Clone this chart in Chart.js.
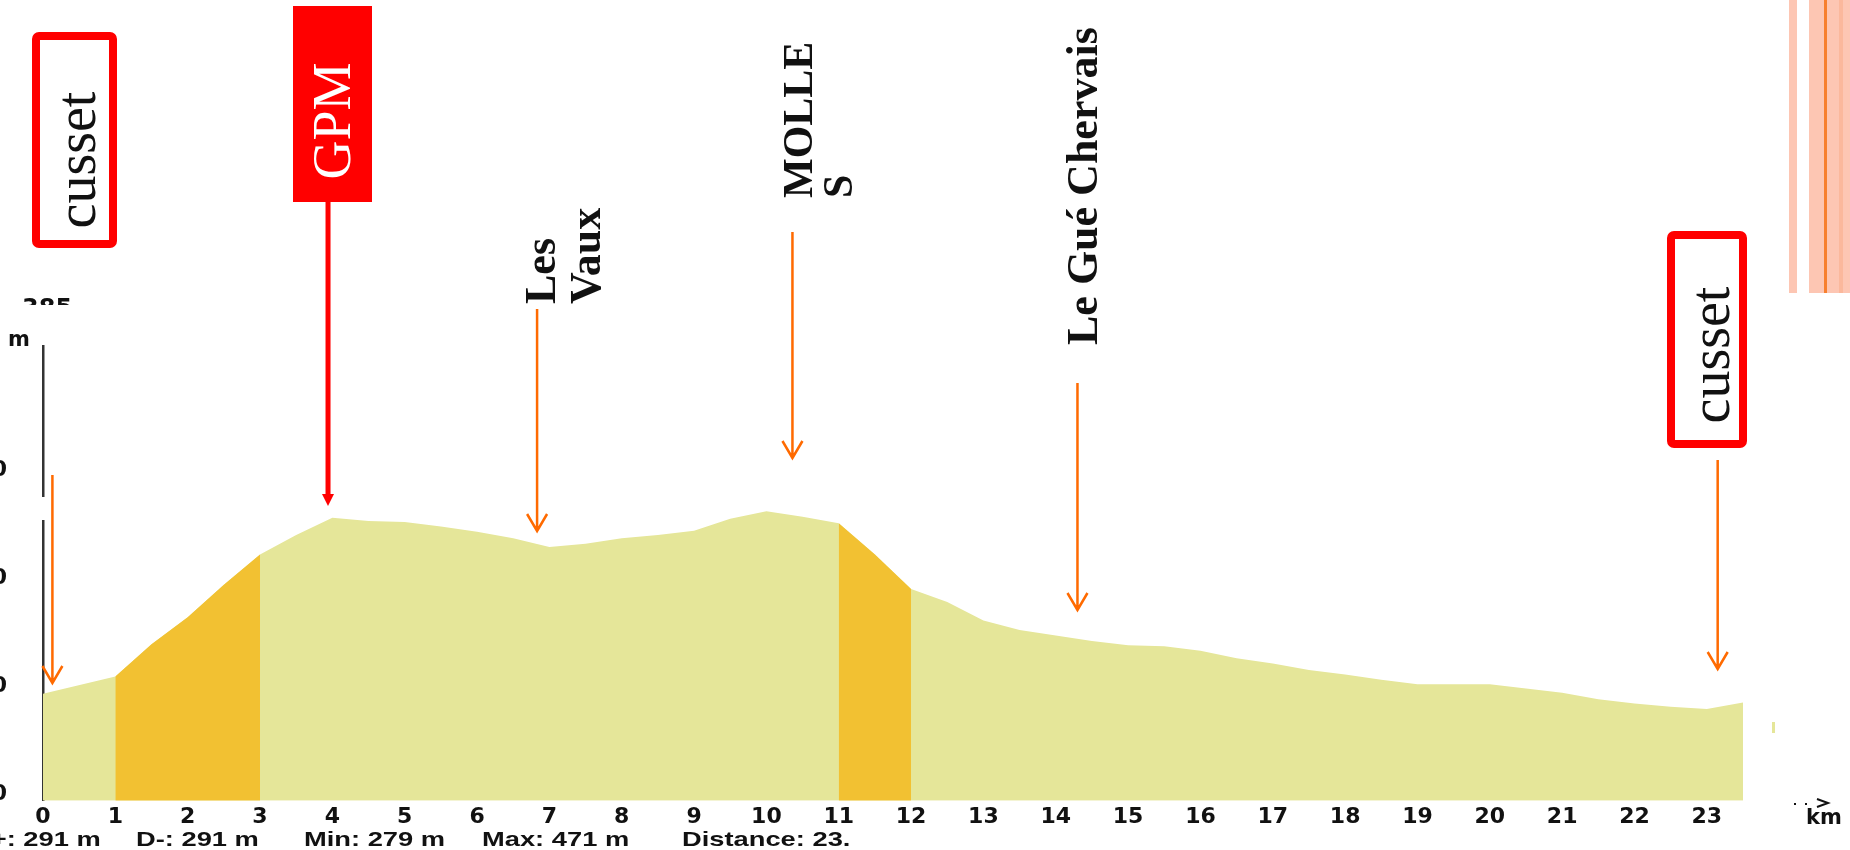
<!DOCTYPE html>
<html>

<head>
   <meta charset="UTF-8">
   <title>Profil cusset</title>
   <script src="https://cdn.jsdelivr.net/npm/chart.js@4.4.1/dist/chart.umd.min.js"></script>
   <style>
      html, body { margin: 0; padding: 0; background: #fff; overflow: hidden; }
      #chartCanvas { display: block; }
   </style>
</head>

<body>
   <canvas id="chartCanvas" width="1850" height="850"></canvas>

   <script>
      // distance along the route (km) and elevation (m)
      const km = [0, 1, 1.5, 2, 2.5, 3, 3.5, 4, 4.5, 5, 5.5, 6, 6.5, 7, 7.5, 8, 8.5, 9, 9.5, 10,
         10.5, 11, 11.5, 12, 12.5, 13, 13.5, 14, 14.5, 15, 15.5, 16, 16.5, 17, 17.5, 18, 18.5,
         19, 19.5, 20, 20.5, 21, 21.5, 22, 22.5, 23, 23.5];
      const elevation = [288, 304, 334, 359, 389, 417, 435, 451, 448, 447, 443, 438, 432, 424, 427,
         432, 435, 439, 450, 457, 452, 446, 417, 385, 373, 356, 347, 342, 337, 333, 332, 328, 321,
         316, 310, 306, 301, 297, 297, 297, 293, 289, 283, 279, 276, 274, 280];

      // the two steep sections drawn in orange
      const climbStart = [1, 11];
      const climbEnd = [3, 12];

      // summary line under the axis
      const statLabels = ["D+: 291 m", "D-: 291 m", "Min: 279 m", "Max: 471 m", "Distance: 23."];

      // places written over the profile, and where their arrow points (km)
      const markerNames = [["cusset"], ["GPM"], ["Les", "Vaux"], ["MOLLE", "S"], ["Le Gué Chervais"], ["cusset"]];
      const markerKm = [0.13, 3.94, 6.83, 10.36, 14.3, 23.15];

      const YELLOW = "#e5e699";
      const ORANGE = "#f2c132";
      const ARROW = "#ff6a00";
      const RED = "#ff0000";
      const SANS = "'DejaVu Sans', sans-serif";
      const ARIAL = "'Liberation Sans', Arial, sans-serif";
      const SERIF = "'Liberation Serif', serif";

      const profile = km.map((k, i) => ({ x: k, y: elevation[i] }));

      const climbSets = climbStart.map((s, i) => ({
         data: profile.filter(p => p.x >= s && p.x <= climbEnd[i]),
         backgroundColor: ORANGE,
         fill: "start"
      }));

      // pixel layout of the overlay drawn on top of the chart
      const markerLayout = [
         { box: [32, 32, 85, 216], text: [95, 160], size: 56, tail: 475, tip: 683 },
         { flag: [293, 6, 79, 196], text: [350, 121], size: 54, tail: 202, tip: 506 },
         { text: [555, 304], gap: 45, size: 44, bold: true, tail: 309, tip: 531 },
         { text: [812, 198], gap: 40, size: 42, bold: true, tail: 232, tip: 458 },
         { text: [1097, 345], gap: 0, size: 44, bold: true, tail: 383, tip: 610 },
         { box: [1667, 231, 80, 217], text: [1729, 355], size: 56, tail: 460, tip: 669 }
      ];
      const statX = [-29, 136, 304, 482, 682];

      function vText(ctx, str, x, y, align) {
         ctx.save();
         ctx.translate(x, y);
         ctx.rotate(-Math.PI / 2);
         ctx.textAlign = align;
         ctx.textBaseline = "alphabetic";
         ctx.fillText(str, 0, 0);
         ctx.restore();
      }

      function openArrow(ctx, x, y1, y2) {
         ctx.save();
         ctx.strokeStyle = ARROW;
         ctx.lineWidth = 2.5;
         ctx.beginPath();
         ctx.moveTo(x, y1);
         ctx.lineTo(x, y2);
         ctx.moveTo(x - 10, y2 - 17);
         ctx.lineTo(x, y2);
         ctx.lineTo(x + 10, y2 - 17);
         ctx.stroke();
         ctx.restore();
      }

      const overlay = {
         id: "overlay",
         afterDraw(chart) {
            const ctx = chart.ctx;
            const xs = chart.scales.x;

            // pink stripes top right
            ctx.fillStyle = "#fdc6b3";
            ctx.fillRect(1789, 0, 8, 293);
            ctx.fillRect(1809, 0, 41, 293);
            ctx.fillStyle = "#fbb89c";
            ctx.fillRect(1839, 0, 4, 293);
            ctx.fillStyle = "#f7802f";
            ctx.fillRect(1824, 0, 3, 293);

            // break in the axis line and stray mark right of the profile
            ctx.fillStyle = "#fff";
            ctx.fillRect(39, 497, 7, 23);
            ctx.fillStyle = YELLOW;
            ctx.fillRect(1772, 722, 3, 11);

            // half hidden label above the axis
            ctx.save();
            ctx.beginPath();
            ctx.rect(0, 297, 100, 8);
            ctx.clip();
            ctx.fillStyle = "#111";
            ctx.font = "bold 24px " + SANS;
            ctx.textBaseline = "alphabetic";
            ctx.fillText("385", 22, 316);
            ctx.restore();

            // axis units
            ctx.fillStyle = "#111";
            ctx.font = "bold 21px " + SANS;
            ctx.textAlign = "left";
            ctx.textBaseline = "alphabetic";
            ctx.fillText("m", 8, 346);
            ctx.fillText("km", 1806, 824);
            ctx.fillRect(1794, 803, 2, 2);
            ctx.fillRect(1805, 803, 2, 2);
            ctx.strokeStyle = "#111";
            ctx.lineWidth = 2;
            ctx.beginPath();
            ctx.moveTo(1817, 799);
            ctx.lineTo(1828, 803);
            ctx.lineTo(1817, 807);
            ctx.stroke();

            // summary line, in a wide bold face
            ctx.font = "bold 21px " + ARIAL;
            statLabels.forEach((s, i) => {
               ctx.save();
               ctx.translate(statX[i], 846);
               ctx.scale(1.3, 1);
               ctx.fillText(s, 0, 0);
               ctx.restore();
            });

            markerNames.forEach((lines, i) => {
               const m = markerLayout[i];
               const x = xs.getPixelForValue(markerKm[i]);

               if (m.flag) {
                  ctx.fillStyle = RED;
                  ctx.fillRect(...m.flag);
                  ctx.fillRect(x - 2.5, m.tail, 5, m.tip - m.tail - 10);
                  ctx.beginPath();
                  ctx.moveTo(x - 6, m.tip - 12);
                  ctx.lineTo(x + 6, m.tip - 12);
                  ctx.lineTo(x, m.tip);
                  ctx.closePath();
                  ctx.fill();
                  ctx.fillStyle = "#fff";
                  ctx.font = m.size + "px " + SERIF;
                  vText(ctx, lines[0], m.text[0], m.text[1], "center");
                  return;
               }

               if (m.box) {
                  const [bx, by, bw, bh] = m.box;
                  ctx.strokeStyle = RED;
                  ctx.lineWidth = 8;
                  ctx.beginPath();
                  ctx.roundRect(bx + 4, by + 4, bw - 8, bh - 8, 3);
                  ctx.stroke();
                  ctx.fillStyle = "#111";
                  ctx.font = m.size + "px " + SERIF;
                  vText(ctx, lines[0], m.text[0], m.text[1], "center");
               } else {
                  ctx.fillStyle = "#111";
                  ctx.font = "bold " + m.size + "px " + SERIF;
                  lines.forEach((l, j) => vText(ctx, l, m.text[0] + j * m.gap, m.text[1], "left"));
               }
               openArrow(ctx, x, m.tail, m.tip);
            });
         }
      };

      const chart = new Chart(document.getElementById("chartCanvas"), {
         type: "line",
         data: {
            datasets: [
               ...climbSets,
               { data: profile, backgroundColor: YELLOW, fill: "start" }
            ]
         },
         options: {
            responsive: false,
            animation: false,
            devicePixelRatio: 1,
            layout: { padding: { left: 0, right: 107, top: 346, bottom: 0 } },
            elements: {
               line: { borderWidth: 0, tension: 0 },
               point: { radius: 0 }
            },
            plugins: { legend: { display: false }, tooltip: { enabled: false } },
            scales: {
               x: {
                  type: "linear",
                  min: 0,
                  max: 23.5,
                  grid: { display: false, drawTicks: false },
                  border: { display: false },
                  ticks: {
                     stepSize: 1,
                     includeBounds: false,
                     autoSkip: false,
                     maxRotation: 0,
                     padding: 3,
                     color: "#111",
                     font: { family: SANS, weight: "bold", size: 22 }
                  },
                  afterFit: s => { s.height = 45; }
               },
               y: {
                  min: 189,
                  max: 610,
                  grid: { display: false, drawTicks: false },
                  border: { display: true, color: "#333", width: 2.5 },
                  ticks: {
                     stepSize: 100,
                     includeBounds: false,
                     padding: 36,
                     labelOffset: 5,
                     color: "#111",
                     font: { family: SANS, weight: "bold", size: 22 }
                  },
                  afterBuildTicks: s => { s.ticks = s.ticks.filter(t => t.value <= 500); },
                  afterFit: s => { s.width = 43; }
               }
            }
         },
         plugins: [overlay]
      });
</script>
</body>

</html>
